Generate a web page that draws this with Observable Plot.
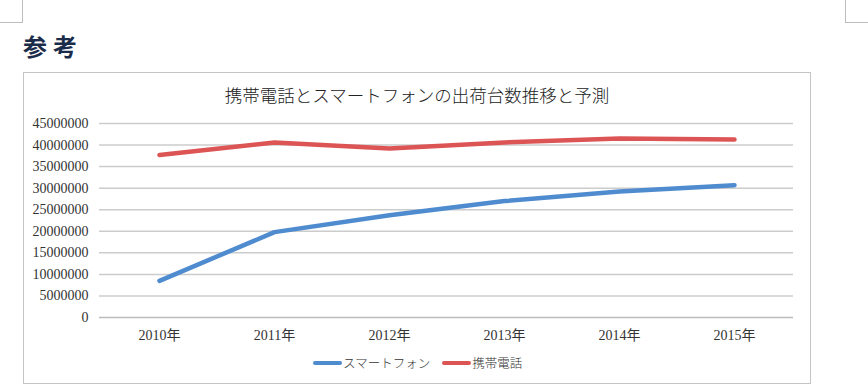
<!DOCTYPE html>
<html>
<head>
<meta charset="utf-8">
<script src="https://cdn.jsdelivr.net/npm/d3@7"></script>
<script src="https://cdn.jsdelivr.net/npm/@observablehq/plot@0.6"></script>
<style>
  html, body { margin: 0; padding: 0; background: #fff; }
  #page { position: relative; width: 868px; height: 390px; overflow: hidden; font-family: "Liberation Serif", "Noto Sans CJK JP", serif; }
  .corner { position: absolute; border-color: #bdbdbd; border-style: solid; }
  #heading { position: absolute; left: 23px; top: 34px; font-family: "Noto Sans CJK JP", sans-serif; font-weight: 700; font-size: 24px; letter-spacing: 6px; color: #1b2c4a; line-height: 1; }
  #box { position: absolute; left: 23px; top: 72px; width: 786px; height: 310px; border: 1.5px solid #c4c4c4; box-sizing: content-box; }
  #title { position: absolute; left: 23px; width: 788px; top: 84px; text-align: center; font-size: 17.5px; color: #222; font-family: "Noto Sans CJK JP", sans-serif; font-weight: 300; line-height: 22px; }
  #chart { position: absolute; left: 24px; top: 110px; }
  #chart svg text { font-family: "Liberation Serif", "Noto Sans CJK JP", serif; font-size: 14px; }
  #legend { position: absolute; top: 353px; left: 313px; display: flex; align-items: center; font-size: 12.5px; color: #333; font-family: "Noto Sans CJK JP", sans-serif; font-weight: 300; }
  .sw { display: inline-block; width: 29px; height: 4px; border-radius: 2px; margin-right: 1px; }
  .item { display: flex; align-items: center; margin-right: 12px; }
</style>
</head>
<body>
<div id="page">
  <div class="corner" style="left:0;top:0;width:22px;height:22px;border-width:0 1px 1px 0;"></div>
  <div class="corner" style="left:845px;top:0;width:23px;height:22px;border-width:0 0 1px 1px;"></div>
  <div id="heading">参考</div>
  <div id="box"></div>
  <div id="title">携帯電話とスマートフォンの出荷台数推移と予測</div>
  <div id="chart"></div>
  <div id="legend"></div>
</div>
<script>
const years = ["2010年", "2011年", "2012年", "2013年", "2014年", "2015年"];
const seriesNames = ["スマートフォン", "携帯電話"];
const smartphone = [8500000, 19800000, 23700000, 27000000, 29200000, 30700000];
const featurePhone = [37700000, 40600000, 39200000, 40600000, 41500000, 41300000];
const yTicks = [0, 5000000, 10000000, 15000000, 20000000, 25000000, 30000000, 35000000, 40000000, 45000000];
const colors = ["#4E8BCF", "#DD5454"];

const data = [];
years.forEach((y, i) => {
  data.push({year: y, value: smartphone[i], series: seriesNames[0]});
  data.push({year: y, value: featurePhone[i], series: seriesNames[1]});
});

const chart = Plot.plot({
  width: 785,
  height: 240,
  marginLeft: 75,
  marginRight: 16,
  marginTop: 13,
  marginBottom: 33,
  style: {fontSize: "14px", color: "#333", background: "transparent"},
  x: {type: "point", domain: years, padding: 0.5, label: null},
  y: {domain: [0, 45000000], ticks: yTicks, label: null},
  color: {domain: seriesNames, range: colors},
  marks: [
    Plot.ruleY(yTicks.slice(1), {stroke: "#cccccc", strokeWidth: 1.5}),
    Plot.ruleY([0], {stroke: "#bbbbbb", strokeWidth: 1.5}),
    Plot.axisY({ticks: yTicks, tickSize: 0, tickPadding: 11, tickFormat: d => String(d), label: null, fill: "#333"}),
    Plot.axisX({tickSize: 0, tickPadding: 13, label: null, fill: "#333"}),
    Plot.line(data, {x: "year", y: "value", z: "series", stroke: "series", strokeWidth: 4.5, strokeLinecap: "round", strokeLinejoin: "round"})
  ]
});
document.getElementById("chart").appendChild(chart);

const legend = document.getElementById("legend");
seriesNames.forEach((name, i) => {
  const item = document.createElement("div");
  item.className = "item";
  const sw = document.createElement("span");
  sw.className = "sw";
  sw.style.background = colors[i];
  const t = document.createElement("span");
  t.textContent = name;
  item.appendChild(sw);
  item.appendChild(t);
  legend.appendChild(item);
});
</script>
</body>
</html>
